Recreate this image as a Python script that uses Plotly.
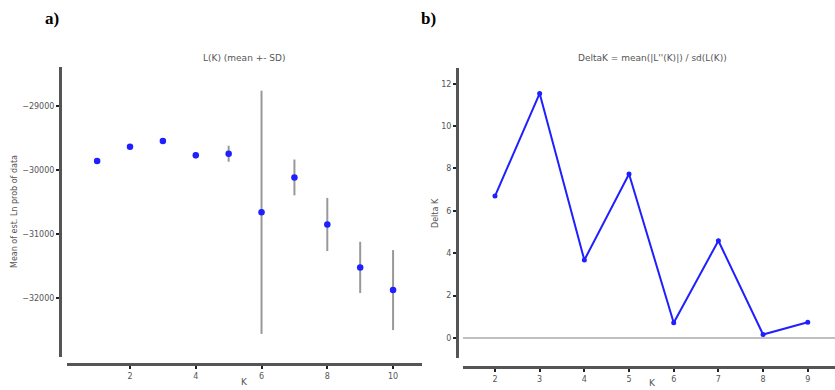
import plotly.graph_objects as go

# Data
k_left = [1, 2, 3, 4, 5, 6, 7, 8, 9, 10]
lk_mean = [-29860, -29635, -29547, -29770, -29745, -30660, -30115, -30850, -31520, -31875]
lk_sd = [20, 25, 20, 50, 125, 1900, 280, 415, 400, 625]

k_right = [2, 3, 4, 5, 6, 7, 8, 9]
delta_k = [6.7, 11.54, 3.68, 7.74, 0.72, 4.59, 0.17, 0.75]

left_yticks = [-29000, -30000, -31000, -32000]
left_yticklabels = ["\u221229000", "\u221230000", "\u221231000", "\u221232000"]
left_xticks = [2, 4, 6, 8, 10]
right_yticks = [0, 2, 4, 6, 8, 10, 12]
right_xticks = [2, 3, 4, 5, 6, 7, 8, 9]

W, H = 835, 390
def px(x):
    return x / W
def py(y):
    return 1 - y / H

FONT = "DejaVu Sans"
AX_COLOR = "#555555"
TXT = "#555555"

fig = go.Figure()

fig.add_trace(go.Scatter(
    x=k_left, y=lk_mean, mode="markers",
    marker=dict(color="#1f1fff", size=6.5),
    error_y=dict(type="data", array=lk_sd, color="#999999", thickness=2, width=0),
    xaxis="x", yaxis="y", showlegend=False,
))

fig.add_trace(go.Scatter(
    x=k_right, y=delta_k, mode="lines+markers",
    line=dict(color="#1f1fff", width=2),
    marker=dict(color="#1f1fff", size=5),
    xaxis="x2", yaxis="y2", showlegend=False,
))

axis_common = dict(
    showgrid=False, zeroline=False, showline=True, linecolor=AX_COLOR, linewidth=3,
    ticks="outside", ticklen=3, tickwidth=1.5, tickcolor="#222222",
    tickfont=dict(family=FONT, size=8, color=TXT),
)

fig.update_layout(
    width=W, height=H,
    margin=dict(l=0, r=0, t=0, b=0),
    plot_bgcolor="white", paper_bgcolor="white",
    xaxis=dict(domain=[px(67), px(422)], range=[0.084, 10.88], anchor="free", position=py(364),
               tickvals=left_xticks, **axis_common),
    yaxis=dict(domain=[py(357), py(67)], range=[-32920, -28390], anchor="free", position=px(60),
               tickvals=left_yticks, ticktext=left_yticklabels, **axis_common),
    xaxis2=dict(domain=[px(463), px(835)], range=[1.284, 9.61], anchor="free", position=py(367),
                tickvals=right_xticks, **axis_common),
    yaxis2=dict(domain=[py(358), py(68)], range=[-0.94, 12.74], anchor="free", position=px(457),
                tickvals=right_yticks, **axis_common),
)

fig.add_shape(type="line", xref="x2 domain", yref="y2", x0=0, x1=1, y0=0, y1=0,
              line=dict(color="#aaaaaa", width=1.5), layer="below")

ann = [
    dict(text="a)", x=px(52), y=py(18), font=dict(family="Liberation Serif", size=17, color="black")),
    dict(text="b)", x=px(428), y=py(18), font=dict(family="Liberation Serif", size=17, color="black")),
    dict(text="L(K) (mean +- SD)", x=px(245), y=py(58), font=dict(family=FONT, size=9, color=TXT)),
    dict(text="DeltaK = mean(|L''(K)|) / sd(L(K))", x=px(652), y=py(58), font=dict(family=FONT, size=9, color=TXT)),
    dict(text="K", x=px(244), y=py(382), font=dict(family=FONT, size=9, color=TXT)),
    dict(text="K", x=px(652), y=py(383), font=dict(family=FONT, size=9, color=TXT)),
    dict(text="Mean of est. Ln prob of data", x=px(15), y=py(212), textangle=-90, font=dict(family=FONT, size=8, color=TXT)),
    dict(text="Delta K", x=px(436), y=py(213), textangle=-90, font=dict(family=FONT, size=8, color=TXT)),
]
for a in ann:
    txt = a.pop("text")
    if txt in ("a)", "b)"):
        txt = "<b>" + txt + "</b>"
    fig.add_annotation(text=txt, xref="paper", yref="paper", showarrow=False,
                       xanchor="center", yanchor="middle", **a)

fig.write_html("out.html", config={"displayModeBar": False},
               post_script="document.body.style.margin='0';document.body.style.overflow='hidden';")
